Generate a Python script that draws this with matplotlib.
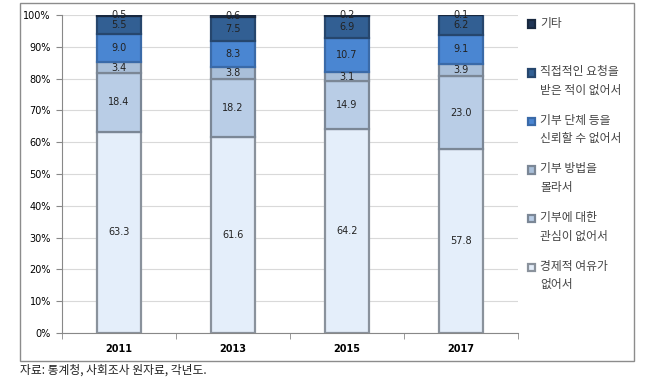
import matplotlib.pyplot as plt
from matplotlib.patches import Rectangle

plt.rcParams['font.family'] = ['Noto Sans CJK KR', 'DejaVu Sans']

# 연도
years = ['2011', '2013', '2015', '2017']

# 항목별 비율 (%)
economic = [63.3, 61.6, 64.2, 57.8]      # 경제적 여유가 없어서
interest = [18.4, 18.2, 14.9, 23.0]      # 기부에 대한 관심이 없어서
method = [3.4, 3.8, 3.1, 3.9]            # 기부 방법을 몰라서
trust = [9.0, 8.3, 10.7, 9.1]            # 기부 단체 등을 신뢰할 수 없어서
request = [5.5, 7.5, 6.9, 6.2]           # 직접적인 요청을 받은 적이 없어서
other = [0.5, 0.6, 0.2, 0.1]             # 기타

series = [economic, interest, method, trust, request, other]
labels = ['경제적 여유가\n없어서', '기부에 대한\n관심이 없어서', '기부 방법을\n몰라서',
          '기부 단체 등을\n신뢰할 수 없어서', '직접적인 요청을\n받은 적이 없어서', '기타\n ']
colors = ['#e4eefa', '#b9cde6', '#a9bfd9', '#4a86d2', '#325f93', '#1f3556']
edges = ['#8a929c', '#7b8796', '#7b8796', '#3a6aa8', '#26466d', '#18283f']

fig = plt.figure(figsize=(6.56, 3.78), dpi=100)
ax = fig.add_axes([62 / 656, 1 - 333 / 378, 456 / 656, 318 / 378])

# 바깥 테두리
fig.patches.append(Rectangle((20 / 656, 1 - 361 / 378), 614 / 656, 358 / 378,
                             transform=fig.transFigure, fill=False,
                             edgecolor='#8c8c8c', linewidth=1.0))

x = [i + 0.5 for i in range(len(years))]
bottom = [0] * len(years)
handles = []
for vals, lab, c, ec in zip(series, labels, colors, edges):
    bars = ax.bar(x, vals, width=0.39, bottom=bottom, color=c, edgecolor=ec,
                  linewidth=1.6, label=lab, zorder=3)
    handles.append(bars)
    for xi, b, v in zip(x, bottom, vals):
        ax.text(xi, b + v / 2, f'{v:.1f}', ha='center', va='center',
                fontsize=7, color='#222222', family='DejaVu Sans', zorder=4)
    bottom = [b + v for b, v in zip(bottom, vals)]

ax.set_xlim(0, 4)
ax.set_ylim(0, 100)
ax.set_yticks(range(0, 101, 10))
ax.set_yticklabels([f'{t}%' for t in range(0, 101, 10)], fontsize=7,
                   family='DejaVu Sans')
ax.set_xticks(x)
ax.set_xticklabels(years, fontsize=7, family='DejaVu Sans', fontweight='bold')
ax.set_xticks([0, 1, 2, 3, 4], minor=True)
ax.tick_params(axis='x', which='major', length=0, pad=8)
ax.tick_params(axis='x', which='minor', length=4, color='#888888')
ax.tick_params(axis='y', length=4, color='#888888', pad=4)
ax.grid(axis='y', color='#d9d9d9', linewidth=0.8, zorder=0)
for s in ['top', 'right']:
    ax.spines[s].set_visible(False)
ax.spines['left'].set_color('#888888')
ax.spines['bottom'].set_color('#888888')

leg = fig.legend(handles[::-1], labels[::-1], loc='upper left',
                 bbox_to_anchor=(517 / 656, 1 - 6 / 378), frameon=False,
                 fontsize=8.5, handlelength=0.6, handleheight=0.6,
                 handletextpad=0.45, labelspacing=1.45, labelcolor='#444444')
for t in leg.get_texts():
    t.set_linespacing(1.55)
# 범례 표식을 첫 줄에 맞춤
for h in leg.legend_handles:
    h.set_y(h.get_y() + 6.5)

fig.text(20 / 656, 1 - 370 / 378, '자료: 통계청, 사회조사 원자료, 각년도.',
         fontsize=8.5, va='center', ha='left', color='#222222')

fig.savefig('out.png', dpi=100)
